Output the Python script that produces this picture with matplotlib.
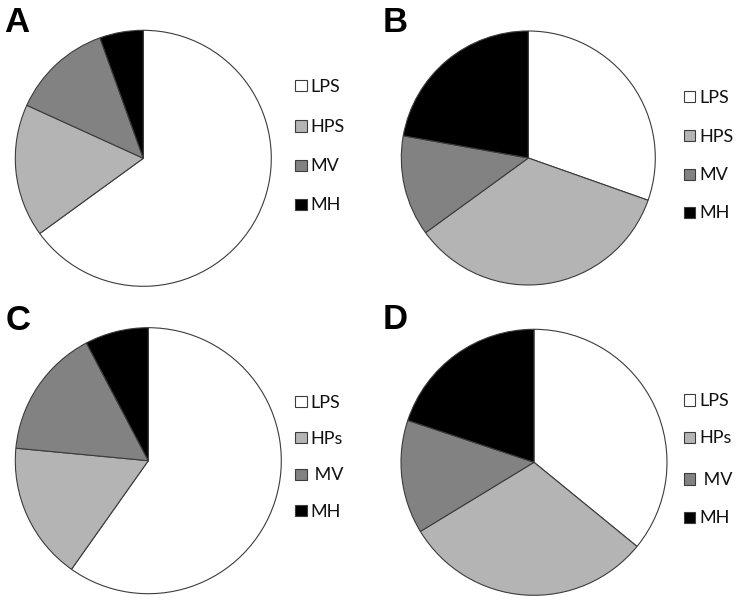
import matplotlib
matplotlib.use("Agg")
import matplotlib.pyplot as plt
from matplotlib.patches import Rectangle

# slice shares (percent), clockwise from 12 o'clock
panel_names = ["A", "B", "C", "D"]
shares_a = [65.0, 16.8, 12.7, 5.5]
shares_b = [30.4, 34.6, 12.8, 22.2]
shares_c = [59.8, 16.7, 15.8, 7.7]
shares_d = [35.9, 30.4, 13.8, 19.9]
labels_ab = ["LPS", "HPS", "MV", "MH"]
labels_cd = ["LPS", "HPs", " MV", "MH"]
colors = ["#ffffff", "#b4b4b4", "#828282", "#000000"]

W, H = 738, 601
fig = plt.figure(figsize=(W / 100, H / 100), dpi=100)
fig.patch.set_facecolor("white")


def fx(x):
    return x / W


def fy(y):
    return 1 - y / H


# layout in pixels: pie centre, radius, legend square x, legend rows, letter pos
layout = {
    "A": dict(c=(143.3, 158.3), r=128, lx=295, rows=[85.7, 126.0, 165.3, 204.3], tx=(4, 32)),
    "B": dict(c=(528.3, 158.0), r=127, lx=683.5, rows=[96.7, 135.7, 174.3, 212.3], tx=(383, 32)),
    "C": dict(c=(148.3, 460.7), r=133, lx=295, rows=[401.7, 437.7, 474.3, 510.7], tx=(6, 330)),
    "D": dict(c=(534.0, 462.3), r=133, lx=683.5, rows=[400.0, 437.3, 479.0, 517.3], tx=(383, 329)),
}

all_shares = [shares_a, shares_b, shares_c, shares_d]
all_labels = [labels_ab, labels_ab, labels_cd, labels_cd]

sq = 11.5
for name, shares, labels in zip(panel_names, all_shares, all_labels):
    p = layout[name]
    cx, cy = p["c"]
    r = p["r"]
    ax = fig.add_axes([fx(cx - r), fy(cy + r), 2 * r / W, 2 * r / H])
    ax.pie(shares, colors=colors, startangle=90, counterclock=False,
           wedgeprops=dict(edgecolor="#3c3c3c", linewidth=0.8))
    ax.set_xlim(-1, 1)
    ax.set_ylim(-1, 1)
    ax.set_aspect("auto")
    ax.axis("off")

    # legend
    for lab, col, ry in zip(labels, colors, p["rows"]):
        fig.patches.append(Rectangle((fx(p["lx"]), fy(ry + sq / 2)), sq / W, sq / H,
                                     transform=fig.transFigure, facecolor=col,
                                     edgecolor="#3c3c3c", linewidth=0.8))
        fig.text(fx(p["lx"] + sq + 4), fy(ry + sq / 2 + 0.3), lab, fontsize=13,
                 family="Lato", va="baseline", ha="left", color="#111111")

    # panel letter
    fig.text(fx(p["tx"][0]), fy(p["tx"][1]), name, fontsize=25, fontweight="bold",
             family="Liberation Sans", va="baseline", ha="left")

fig.savefig("out.png", dpi=100)
